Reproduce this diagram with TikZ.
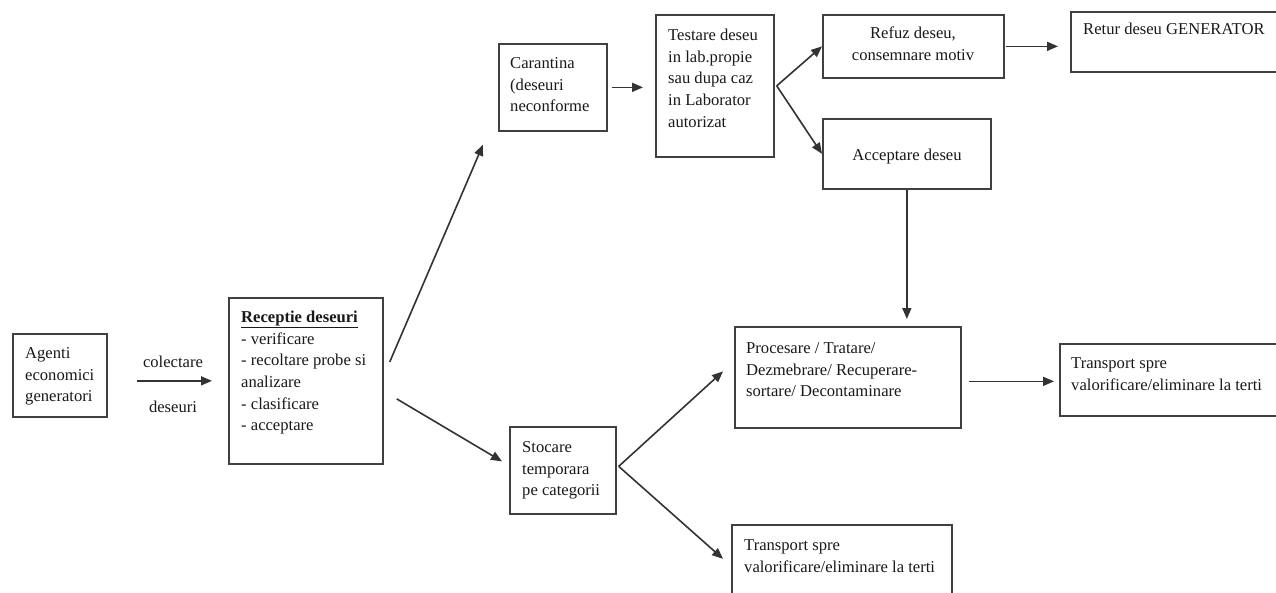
\documentclass[tikz,border=0pt]{standalone}
\usepackage{fontspec}
\setmainfont{Liberation Serif}
\usetikzlibrary{arrows.meta,calc}
\begin{document}
\begin{tikzpicture}[x=1pt,y=-1pt,
  box/.style={draw=black!75, line width=1.7pt, inner sep=0pt, anchor=north west},
  txt/.style={anchor=north west, inner sep=0pt, align=left, text=black!90,
              font=\fontsize{16.6}{21.7}\selectfont},
  lbl/.style={inner sep=0pt, text=black!90, font=\fontsize{16.6}{21.7}\selectfont},
  arr/.style={draw=black!80, line width=1.6pt, -{Triangle[length=11pt,width=9pt]}}]
\clip (0,0) rectangle (1276,592);
\fill[white] (0,0) rectangle (1276,592);
% boxes
\node[box, minimum width=94pt,  minimum height=83pt]  (agenti)     at (12,333) {};
\node[box, minimum width=154pt, minimum height=166pt] (receptie)   at (228,297) {};
\node[box, minimum width=108pt, minimum height=87pt]  (carantina)  at (498,43) {};
\node[box, minimum width=118pt, minimum height=142pt] (testare)    at (655,14) {};
\node[box, minimum width=181pt, minimum height=63pt]  (refuz)      at (822,14) {};
\node[box, minimum width=220pt, minimum height=60pt]  (retur)      at (1070,11) {};
\node[box, minimum width=168pt, minimum height=70pt]  (acceptare)  at (822,118) {};
\node[box, minimum width=226pt, minimum height=101pt] (procesare)  at (734,326) {};
\node[box, minimum width=231pt, minimum height=72pt]  (transportA) at (1059,343) {};
\node[box, minimum width=106pt, minimum height=87pt]  (stocare)    at (509,426) {};
\node[box, minimum width=220pt, minimum height=86pt]  (transportB) at (731,524) {};
% texts
\node[txt] (agentiT) at (25,343) {\strut Agenti\\economici\\generatori};
\node[lbl] (colectare) at (173,362) {colectare};
\node[lbl] (deseuri) at (173,407) {deseuri};
\node[txt] (receptieT) at (241,307) {\strut\textbf{\underline{Receptie deseuri}}\\- verificare\\- recoltare probe si\\analizare\\- clasificare\\- acceptare};
\node[txt] (carantinaT) at (510,53) {\strut Carantina\\(deseuri\\neconforme};
\node[txt] (testareT) at (668,25) {\strut Testare deseu\\in lab.propie\\sau dupa caz\\in Laborator\\autorizat};
\node[txt, anchor=north, align=center] (refuzT) at (913,23) {\strut Refuz deseu,\\consemnare motiv};
\node[txt] (returT) at (1083,19) {\strut Retur deseu GENERATOR};
\node[lbl] (acceptareT) at (907,157) {Acceptare deseu};
\node[txt] (procesareT) at (746,338) {\strut Procesare / Tratare/\\Dezmebrare/ Recuperare-\\sortare/ Decontaminare};
\node[txt] (transportAT) at (1071,353) {\strut Transport spre\\valorificare/eliminare la terti};
\node[txt] (stocareT) at (522,437) {\strut Stocare\\temporara\\pe categorii};
\node[txt] (transportBT) at (744,535) {\strut Transport spre\\valorificare/eliminare la terti};
% connectors
\draw[arr] ([xshift=29pt]agenti.east |- receptie.west) -- ([xshift=-16pt]receptie.west);
\draw[arr] ([shift={(6,65)}]receptie.north east) -- ([shift={(-15,13)}]carantina.south west);
\draw[arr] ([shift={(13,18)}]receptie.east) -- ([shift={(-7,-9)}]stocare.west);
\draw[arr] ([xshift=4pt]carantina.east) -- ([xshift=-12pt]testare.west |- carantina.east);
\coordinate (fork1) at ([xshift=2pt]testare.east);
\draw[arr] (fork1) -- (refuz.west);
\draw[arr] (fork1) -- (acceptare.west);
\draw[arr] ([xshift=1pt]refuz.east) -- ([xshift=-12pt]retur.west |- refuz.east);
\draw[arr, shorten >=7pt] (acceptare.south) -- (acceptare.south |- procesare.north);
\coordinate (fork2) at ([shift={(2,-4)}]stocare.east);
\draw[arr] (fork2) -- ([shift={(-11,-6)}]procesare.west);
\draw[arr] (fork2) -- ([shift={(-8,-9)}]transportB.west);
\coordinate (p1) at ([shift={(7,4)}]procesare.east);
\draw[arr] (p1) -- ([xshift=-5pt]transportA.west |- p1);
\end{tikzpicture}
\end{document}
